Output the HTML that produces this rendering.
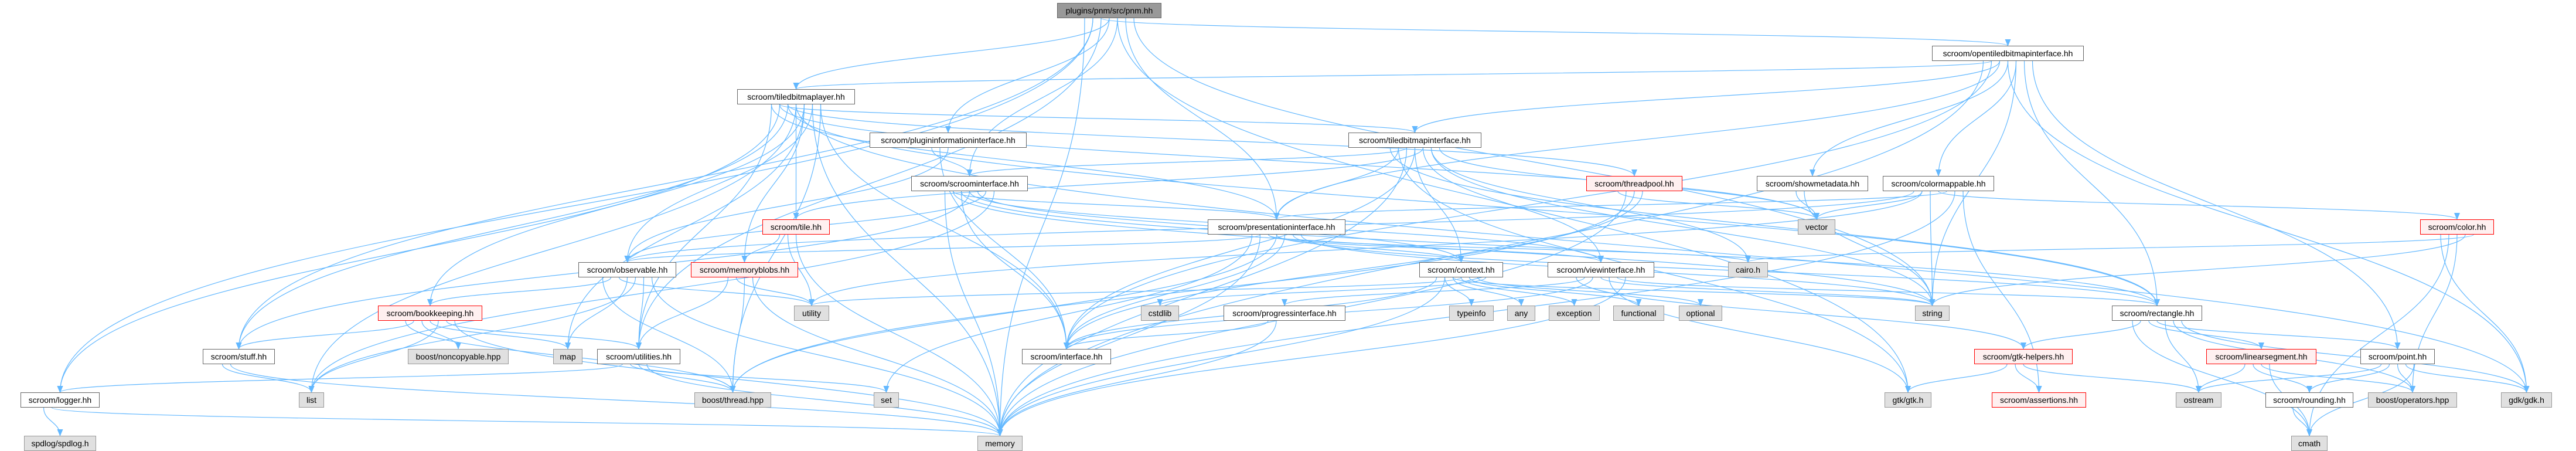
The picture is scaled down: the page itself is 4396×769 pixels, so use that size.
<!DOCTYPE html>
<html><head><meta charset="utf-8"><style>
html,body{margin:0;padding:0;background:#fff;width:4396px;height:769px;overflow:hidden}
#c{position:relative;width:4396px;height:769px}
svg{position:absolute;left:0;top:0}
.n{position:absolute;height:24px;line-height:24px;border:1px solid #666;background:#fff;font-family:"Liberation Sans",sans-serif;font-size:14px;color:#000;text-align:center;white-space:nowrap;box-sizing:content-box;z-index:2}
.g{background:#e0e0e0;border-color:#999}
.r{background:#fff0f0;border-color:#f00}
.d{background:#999;border-color:#666}
</style></head><body><div id="c">
<svg id="s" width="4396" height="769"><defs><marker id="a" markerWidth="12" markerHeight="10" refX="11" refY="5" orient="auto" markerUnits="userSpaceOnUse"><path d="M0,0 L12,5 L0,10 z" fill="#63b8ff"/></marker></defs><g id="e" fill="none" stroke="#63b8ff" stroke-width="1.2"></g></svg>
<div class="n d" id="pnm" style="left:1804px;top:5px;width:176px">plugins/pnm/src/pnm.hh</div>
<div class="n" id="otbi" style="left:3297px;top:78px;width:257px">scroom/opentiledbitmapinterface.hh</div>
<div class="n" id="tbl" style="left:1258px;top:152px;width:199px">scroom/tiledbitmaplayer.hh</div>
<div class="n" id="pii" style="left:1484px;top:226px;width:266px">scroom/plugininformationinterface.hh</div>
<div class="n" id="tbi" style="left:2301px;top:226px;width:225px">scroom/tiledbitmapinterface.hh</div>
<div class="n" id="si" style="left:1555px;top:300px;width:197px">scroom/scroominterface.hh</div>
<div class="n r" id="tp" style="left:2707px;top:300px;width:162px">scroom/threadpool.hh</div>
<div class="n" id="smd" style="left:2998px;top:300px;width:188px">scroom/showmetadata.hh</div>
<div class="n" id="cm" style="left:3213px;top:300px;width:188px">scroom/colormappable.hh</div>
<div class="n r" id="tile" style="left:1301px;top:374px;width:113px">scroom/tile.hh</div>
<div class="n" id="pi" style="left:2061px;top:374px;width:233px">scroom/presentationinterface.hh</div>
<div class="n g" id="vec" style="left:3068px;top:374px;width:62px">vector</div>
<div class="n r" id="color" style="left:4130px;top:374px;width:124px">scroom/color.hh</div>
<div class="n" id="obs" style="left:987px;top:447px;width:165px">scroom/observable.hh</div>
<div class="n r" id="mb" style="left:1179px;top:447px;width:181px">scroom/memoryblobs.hh</div>
<div class="n" id="ctx" style="left:2422px;top:447px;width:141px">scroom/context.hh</div>
<div class="n" id="vi" style="left:2641px;top:447px;width:180px">scroom/viewinterface.hh</div>
<div class="n g" id="cairo" style="left:2949px;top:447px;width:66px">cairo.h</div>
<div class="n r" id="bk" style="left:645px;top:521px;width:176px">scroom/bookkeeping.hh</div>
<div class="n g" id="util" style="left:1355px;top:521px;width:58px">utility</div>
<div class="n g" id="cstd" style="left:1947px;top:521px;width:63px">cstdlib</div>
<div class="n" id="prog" style="left:2088px;top:521px;width:206px">scroom/progressinterface.hh</div>
<div class="n g" id="ti" style="left:2473px;top:521px;width:74px">typeinfo</div>
<div class="n g" id="any" style="left:2572px;top:521px;width:46px">any</div>
<div class="n g" id="exc" style="left:2643px;top:521px;width:85px">exception</div>
<div class="n g" id="func" style="left:2753px;top:521px;width:85px">functional</div>
<div class="n g" id="opt" style="left:2865px;top:521px;width:72px">optional</div>
<div class="n g" id="str" style="left:3268px;top:521px;width:57px">string</div>
<div class="n" id="rect" style="left:3604px;top:521px;width:152px">scroom/rectangle.hh</div>
<div class="n" id="stuff" style="left:346px;top:595px;width:121px">scroom/stuff.hh</div>
<div class="n g" id="nonc" style="left:696px;top:595px;width:170px">boost/noncopyable.hpp</div>
<div class="n g" id="map" style="left:944px;top:595px;width:48px">map</div>
<div class="n" id="utils" style="left:1019px;top:595px;width:140px">scroom/utilities.hh</div>
<div class="n" id="iface" style="left:1744px;top:595px;width:150px">scroom/interface.hh</div>
<div class="n r" id="gtkh" style="left:3369px;top:595px;width:166px">scroom/gtk-helpers.hh</div>
<div class="n r" id="lseg" style="left:3765px;top:595px;width:186px">scroom/linearsegment.hh</div>
<div class="n" id="point" style="left:4028px;top:595px;width:125px">scroom/point.hh</div>
<div class="n" id="logger" style="left:35px;top:669px;width:133px">scroom/logger.hh</div>
<div class="n g" id="list" style="left:510px;top:669px;width:41px">list</div>
<div class="n g" id="bth" style="left:1185px;top:669px;width:129px">boost/thread.hpp</div>
<div class="n g" id="set" style="left:1491px;top:669px;width:41px">set</div>
<div class="n g" id="gtk" style="left:3216px;top:669px;width:78px">gtk/gtk.h</div>
<div class="n r" id="assert" style="left:3399px;top:669px;width:159px">scroom/assertions.hh</div>
<div class="n g" id="ostream" style="left:3713px;top:669px;width:76px">ostream</div>
<div class="n" id="round" style="left:3866px;top:669px;width:148px">scroom/rounding.hh</div>
<div class="n g" id="bops" style="left:4041px;top:669px;width:150px">boost/operators.hpp</div>
<div class="n g" id="gdk" style="left:4268px;top:669px;width:85px">gdk/gdk.h</div>
<div class="n g" id="spd" style="left:41px;top:743px;width:121px">spdlog/spdlog.h</div>
<div class="n g" id="mem" style="left:1668px;top:743px;width:75px">memory</div>
<div class="n g" id="cmath" style="left:3910px;top:743px;width:60px">cmath</div>
</div>
<script>
var E="pnm>logger pnm>otbi pnm>pii pnm>si pnm>pi pnm>str pnm>mem pnm>stuff pnm>utils pnm>tbl pnm>gtk "+
"otbi>tbl otbi>tbi otbi>smd otbi>cm otbi>rect otbi>point otbi>mem otbi>iface otbi>pi otbi>gdk otbi>str "+
"tbl>tbi tbl>tp tbl>tile tbl>mb tbl>obs tbl>iface tbl>pi tbl>logger tbl>stuff tbl>list tbl>map tbl>mem tbl>bth tbl>utils tbl>vec tbl>rect tbl>gdk tbl>bk "+
"pii>si pii>iface pii>obs si>pi si>iface si>vi si>ctx si>obs si>list si>mem si>str si>rect si>stuff "+
"pi>obs pi>vi pi>ctx pi>iface pi>rect pi>str pi>set pi>mem pi>cairo pi>bth "+
"tbi>pi tbi>si tbi>ctx tbi>vi tbi>cairo tbi>vec tbi>rect tbi>gtk tbi>mem tbi>iface tbi>tile tbi>str "+
"tile>mb tile>util tile>mem mb>utils mb>util mb>bth mb>mem "+
"obs>bk obs>util obs>map obs>list obs>utils obs>mem obs>bth "+
"bk>stuff bk>nonc bk>map bk>list bk>utils bk>mem bk>bth stuff>list stuff>mem "+
"utils>logger utils>set utils>bth utils>mem logger>spd logger>mem "+
"ctx>ti ctx>any ctx>exc ctx>func ctx>opt ctx>cstd ctx>iface ctx>mem ctx>str ctx>util "+
"vi>prog vi>iface vi>str vi>gtk vi>rect vi>mem vi>gtkh prog>iface prog>mem "+
"tp>vec tp>mem tp>bth tp>iface smd>vec smd>str "+
"cm>vec cm>str cm>color cm>pi cm>mem cm>assert cm>obs cm>util "+
"color>gdk color>cmath color>bops color>str color>cairo "+
"rect>gtkh rect>lseg rect>point rect>ostream rect>bops rect>gdk rect>cmath "+
"gtkh>gtk gtkh>assert gtkh>ostream lseg>ostream lseg>round lseg>bops lseg>cmath "+
"point>ostream point>round point>bops point>gdk point>cmath round>cmath";
var g=document.getElementById('e'),ns="http://www.w3.org/2000/svg";
function b(id){var d=document.getElementById(id);return{x:d.offsetLeft,y:d.offsetTop,w:d.offsetWidth,h:d.offsetHeight};}
var cnt={};
E.split(" ").forEach(function(p){var s=p.split(">"),A=b(s[0]),B=b(s[1]);
cnt[s[0]]=(cnt[s[0]]||0)+1;var k=cnt[s[0]];
var off=((k%7)-3)*Math.min(A.w/8,14);
var x0,y0,x3,y3,d;
if(Math.abs(A.y-B.y)<5){
 if(B.x>A.x){x0=A.x+A.w;x3=B.x;}else{x0=A.x;x3=B.x+B.w;}
 y0=A.y+A.h/2;y3=B.y+B.h/2;
 d="M"+x0+","+y0+" L"+x3+","+y3;
}else{
 if(B.y>A.y){x0=A.x+A.w/2+off;y0=A.y+A.h;x3=B.x+B.w/2;y3=B.y;}
 else{x0=A.x+A.w/2+off;y0=A.y;x3=B.x+B.w/2;y3=B.y+B.h;}
 var dy=(y3-y0)*0.5;
 d="M"+x0+","+y0+" C"+x0+","+(y0+dy)+" "+x3+","+(y3-dy)+" "+x3+","+y3;
}
var e=document.createElementNS(ns,"path");e.setAttribute("d",d);e.setAttribute("marker-end","url(#a)");g.appendChild(e);});
</script>
</body></html>
